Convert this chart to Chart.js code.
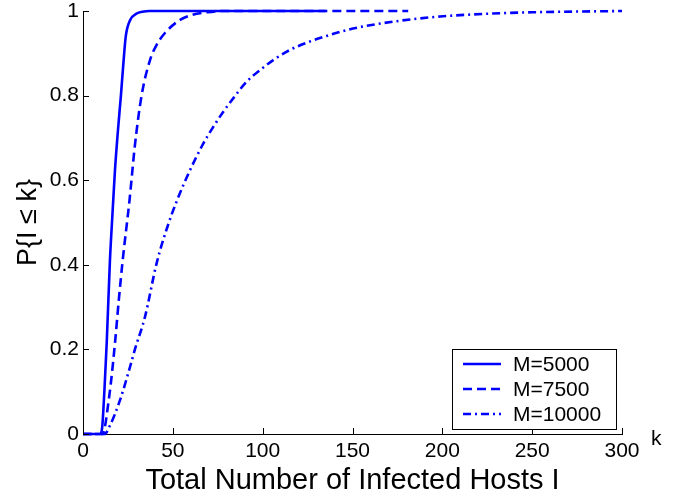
<!DOCTYPE html>
<html>
<head>
<meta charset="utf-8">
<script src="https://cdn.jsdelivr.net/npm/chart.js@4/dist/chart.umd.min.js"></script>
<style>
html, body { margin: 0; padding: 0; background: #fff; }
</style>
</head>
<body>
<canvas id="cdfChart" width="674" height="491"></canvas>
<script>
// P{I <= k}, one pair of arrays per curve
var m5000K = [0, 9.5, 10.7, 12, 13.2, 15, 16.4, 17.8, 19.5, 21.1, 22.4, 23.8, 26.2, 29.9, 33, 37, 135]
var m5000P = [0, 0, 0.017, 0.11, 0.215, 0.411, 0.52, 0.624, 0.72, 0.8, 0.872, 0.94, 0.978, 0.994, 0.998, 1, 1]

var m7500K = [0, 11, 12.2, 14, 15.5, 17.8, 20, 22.1, 25.9, 28.9, 32.6, 37.3, 41, 45.6, 54, 60, 69, 78, 181]
var m7500P = [0, 0, 0.017, 0.07, 0.12, 0.215, 0.32, 0.411, 0.553, 0.683, 0.8, 0.884, 0.92, 0.948, 0.979, 0.99, 0.997, 1, 1]

var m10000K = [0, 12, 15, 20.6, 26.2, 28.9, 34.5, 41, 47, 52.4, 59.6, 67, 72.5, 78.1, 83.7, 91.1, 98.5, 105.9, 115.2, 124.5, 135.6, 146.8, 157.9, 176.4, 198.7, 222.6, 250, 300]
var m10000P = [0, 0, 0.02, 0.08, 0.159, 0.2, 0.277, 0.404, 0.49, 0.553, 0.624, 0.687, 0.726, 0.762, 0.794, 0.833, 0.86, 0.884, 0.908, 0.925, 0.941, 0.955, 0.965, 0.977, 0.987, 0.993, 0.997, 1]

var seriesLabels = ['M=5000', 'M=7500', 'M=10000']
var seriesDashes = [[], [9, 5], [8, 4, 2, 4]]
var xTicks = [0, 50, 100, 150, 200, 250, 300]
var yTicks = [0, 0.2, 0.4, 0.6, 0.8, 1]

var fontFamily = '"Liberation Sans", Arial, Helvetica, sans-serif'
var lineBlue = '#0000ff'

var fnToPoints = (ks, ps) => ks.map((k, i) => { return { x: k, y: ps[i] } })

var fnMakeDataset = (index, ks, ps) => {
    return {
        label: seriesLabels[index],
        data: fnToPoints(ks, ps),
        showLine: true,
        borderColor: lineBlue,
        backgroundColor: lineBlue,
        borderWidth: 2.6,
        borderDash: seriesDashes[index],
        pointRadius: 0,
        cubicInterpolationMode: 'monotone',
        clip: 5
    }
}

// inward ticks, the lone "k" and the boxed legend, matlab style
var matlabExtras = {
    id: 'matlabExtras',
    afterDraw: (chart) => {
        var ctx = chart.ctx
        var area = chart.chartArea
        var xs = chart.scales.x
        var ys = chart.scales.y
        ctx.save()
        ctx.strokeStyle = '#000'
        ctx.lineWidth = 1
        ctx.setLineDash([])
        ctx.beginPath()
        xTicks.forEach((v) => {
            var px = Math.round(xs.getPixelForValue(v)) + 0.5
            ctx.moveTo(px, area.bottom)
            ctx.lineTo(px, area.bottom - 6)
        })
        yTicks.forEach((v) => {
            var py = Math.round(ys.getPixelForValue(v)) + 0.5
            ctx.moveTo(area.left, py)
            ctx.lineTo(area.left + 6, py)
        })
        ctx.stroke()

        ctx.fillStyle = '#000'
        ctx.font = '21px ' + fontFamily
        ctx.textAlign = 'left'
        ctx.textBaseline = 'alphabetic'
        ctx.fillText('k', 651, 445)

        // legend box
        var bx = 452, by = 349, bw = 164, bh = 80
        ctx.fillStyle = '#fff'
        ctx.fillRect(bx, by, bw, bh)
        ctx.strokeRect(bx + 0.5, by + 0.5, bw, bh)
        var rows = [364, 389, 414]
        chart.data.datasets.forEach((ds, i) => {
            ctx.strokeStyle = lineBlue
            ctx.lineWidth = 2.5
            ctx.setLineDash(ds.borderDash)
            ctx.beginPath()
            ctx.moveTo(463, rows[i])
            ctx.lineTo(501, rows[i])
            ctx.stroke()
            ctx.setLineDash([])
            ctx.fillStyle = '#000'
            ctx.textBaseline = 'middle'
            ctx.fillText(ds.label, 513, rows[i] + 1)
        })
        ctx.restore()
    }
}

var ctxC = document.getElementById('cdfChart').getContext('2d')
var cdfChart = new Chart(ctxC, {
    type: 'scatter',
    data: {
        datasets: [
            fnMakeDataset(0, m5000K, m5000P),
            fnMakeDataset(1, m7500K, m7500P),
            fnMakeDataset(2, m10000K, m10000P)
        ]
    },
    options: {
        responsive: false,
        animation: false,
        devicePixelRatio: 1,
        layout: { padding: { left: 0, top: 11, right: 52, bottom: 0 } },
        plugins: {
            legend: { display: false },
            tooltip: { enabled: false }
        },
        scales: {
            x: {
                type: 'linear',
                min: 0,
                max: 300,
                afterBuildTicks: (scale) => { scale.ticks = xTicks.map(v => ({ value: v })) },
                afterFit: (scale) => {
                    scale.height = 57
                    scale.paddingLeft = 0
                    scale.paddingRight = 0
                },
                grid: { display: false, drawTicks: false },
                border: { display: true, color: '#000', width: 1 },
                ticks: {
                    color: '#000',
                    padding: 7,
                    maxRotation: 0,
                    callback: (v) => String(v),
                    font: { family: fontFamily, size: 21, lineHeight: 1 }
                },
                title: {
                    display: true,
                    text: 'Total Number of Infected Hosts I',
                    color: '#000',
                    padding: { top: 0, bottom: -2 },
                    font: { family: fontFamily, size: 29, lineHeight: 0.85 }
                }
            },
            y: {
                type: 'linear',
                min: 0,
                max: 1,
                afterBuildTicks: (scale) => { scale.ticks = yTicks.map(v => ({ value: v })) },
                afterFit: (scale) => {
                    scale.width = 83
                    scale.paddingTop = 0
                    scale.paddingBottom = 0
                },
                grid: { display: false, drawTicks: false },
                border: { display: true, color: '#000', width: 1 },
                ticks: {
                    color: '#000',
                    padding: 4,
                    callback: (v) => String(v),
                    font: { family: fontFamily, size: 21, lineHeight: 1 }
                },
                title: {
                    display: true,
                    text: 'P{I ≤ k}',
                    color: '#000',
                    padding: { top: 15, bottom: 0 },
                    font: { family: fontFamily, size: 27, lineHeight: 1 }
                }
            }
        }
    },
    plugins: [matlabExtras]
})
</script>
</body>
</html>
